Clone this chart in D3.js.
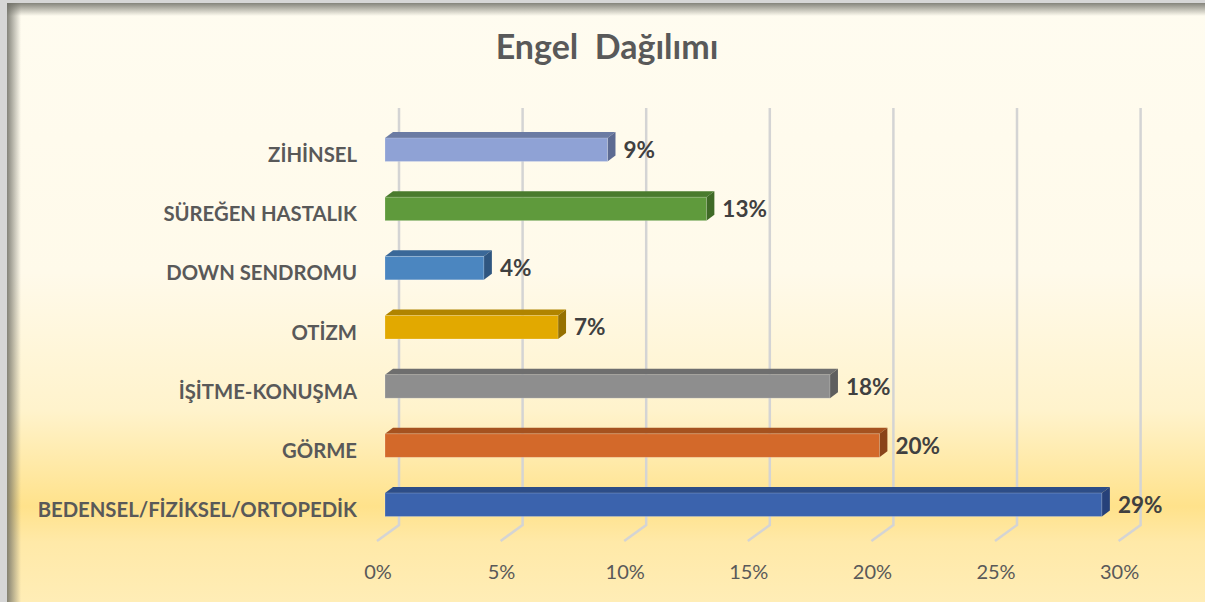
<!DOCTYPE html>
<html>
<head>
<meta charset="utf-8">
<script src="https://cdn.jsdelivr.net/npm/d3@7"></script>
<style>
  body { margin: 0; padding: 0; background: #fff; }
  svg { display: block; }
</style>
</head>
<body>
<div id="chart"></div>
<script>
// data, top row first
const categories = ["ZİHİNSEL", "SÜREĞEN HASTALIK", "DOWN SENDROMU", "OTİZM",
                    "İŞİTME-KONUŞMA", "GÖRME", "BEDENSEL/FİZİKSEL/ORTOPEDİK"];
const values = [9, 13, 4, 7, 18, 20, 29];
const tickValues = [0, 5, 10, 15, 20, 25, 30];
const title = "Engel  Dağılımı";

// bar colours: front, top, side
const fronts = ["#8fa2d5", "#5f9a3c", "#4b86c0", "#e2a900", "#8e8e8e", "#d3692a", "#3b63ad"];
const tops   = ["#6b7ba3", "#4a7b2d", "#3a6898", "#b08400", "#6e6e6e", "#a5521f", "#2d4d87"];
const sides  = ["#5d6b92", "#3f6a26", "#2f5680", "#957000", "#5e5e5e", "#8a4419", "#26417a"];

const width = 1205;
const height = 602;
const font = "Lato, 'Open Sans', sans-serif";

// depth offsets of the fake 3d
const depth = {dx: 8, dy: 6};
const wall = {dx: 14, dy: 10};

const svg = d3.select("#chart").append("svg")
    .attr("width", width)
    .attr("height", height);

const defs = svg.append("defs");

const bg = defs.append("linearGradient")
    .attr("id", "bg").attr("x1", 0).attr("y1", 0).attr("x2", 0).attr("y2", 1);
[[0, "#fffcf0"], [0.45, "#fffaea"], [0.68, "#fff3cc"], [0.84, "#ffe28b"],
 [0.9, "#ffe9a8"], [1, "#ffedb6"]].forEach(s =>
    bg.append("stop").attr("offset", s[0]).attr("stop-color", s[1]));

const shadeL = defs.append("linearGradient").attr("id", "shadeL");
shadeL.append("stop").attr("offset", 0).attr("stop-color", "#6e6e66").attr("stop-opacity", 0.85);
shadeL.append("stop").attr("offset", 1).attr("stop-color", "#6e6e66").attr("stop-opacity", 0);

const shadeT = defs.append("linearGradient").attr("id", "shadeT")
    .attr("x1", 0).attr("y1", 0).attr("x2", 0).attr("y2", 1);
shadeT.append("stop").attr("offset", 0).attr("stop-color", "#6e6e66").attr("stop-opacity", 0.85);
shadeT.append("stop").attr("offset", 1).attr("stop-color", "#6e6e66").attr("stop-opacity", 0);

// frame + background
svg.append("rect").attr("width", width).attr("height", height).attr("fill", "#d6d6d6");
svg.append("rect").attr("x", 7).attr("y", 3).attr("width", width - 7).attr("height", height - 3)
    .attr("fill", "url(#bg)");
svg.append("rect").attr("x", 7).attr("y", 3).attr("width", 14).attr("height", height - 3)
    .attr("fill", "url(#shadeL)");
svg.append("rect").attr("x", 7).attr("y", 3).attr("width", width - 7).attr("height", 13)
    .attr("fill", "url(#shadeT)");

// scales
const x = d3.scaleLinear()
    .domain([0, 30])
    .range([385, 385 + 30 * 24.72]);

const y = d3.scaleBand()
    .domain(categories)
    .range([138, 516.5])
    .paddingInner(0.603)
    .paddingOuter(0);

const wallTop = 108;
const wallBottom = 525;

// gridlines on the back wall and floor
const grid = svg.append("g")
    .attr("fill", "none")
    .attr("stroke", "#d4d4d4")
    .attr("stroke-width", 2.5);

grid.selectAll("path")
    .data(tickValues)
    .join("path")
    .attr("d", d => `M${x(d) + wall.dx},${wallTop}V${wallBottom}` +
        `L${x(d) - 8},${wallBottom + 16}`);

// tick labels
svg.append("g")
    .selectAll("text")
    .data(tickValues)
    .join("text")
    .attr("x", d => x(d) - 7)
    .attr("y", 579)
    .attr("text-anchor", "middle")
    .attr("font-family", font)
    .attr("font-size", 20)
    .attr("fill", "#595959")
    .text(d => d + "%");

// bars
const bars = svg.append("g")
    .selectAll("g")
    .data(categories)
    .join("g");

const h = y.bandwidth();

bars.append("path")
    .attr("fill", (d, i) => tops[i])
    .attr("d", (d, i) => {
        const x0 = x(0), x1 = x(values[i]), t = y(d);
        return `M${x0},${t}L${x0 + depth.dx},${t - depth.dy}L${x1 + depth.dx},${t - depth.dy}L${x1},${t}Z`;
    });

bars.append("path")
    .attr("fill", (d, i) => sides[i])
    .attr("d", (d, i) => {
        const x1 = x(values[i]), t = y(d);
        return `M${x1},${t}L${x1 + depth.dx},${t - depth.dy}L${x1 + depth.dx},${t + h - depth.dy}L${x1},${t + h}Z`;
    });

bars.append("rect")
    .attr("x", x(0))
    .attr("y", d => y(d))
    .attr("width", (d, i) => x(values[i]) - x(0))
    .attr("height", h)
    .attr("fill", (d, i) => fronts[i])
    .attr("stroke", "rgba(255,255,255,0.25)")
    .attr("stroke-width", 0.8);

// value labels
bars.append("text")
    .attr("x", (d, i) => x(values[i]) + 16)
    .attr("y", d => y(d) + h / 2)
    .attr("dy", "0.36em")
    .attr("font-family", font)
    .attr("font-weight", "bold")
    .attr("font-size", 22.5)
    .attr("fill", "#404040")
    .text((d, i) => values[i] + "%");

// category labels
svg.append("g")
    .selectAll("text")
    .data(categories)
    .join("text")
    .attr("x", 357)
    .attr("y", d => y(d) + h / 2 + 5)
    .attr("dy", "0.36em")
    .attr("text-anchor", "end")
    .attr("font-family", font)
    .attr("font-weight", "bold")
    .attr("font-size", 20.3)
    .attr("fill", "#595959")
    .text(d => d);

// title
svg.append("text")
    .attr("x", 607)
    .attr("y", 59)
    .attr("text-anchor", "middle")
    .attr("font-family", font)
    .attr("font-weight", "bold")
    .attr("font-size", 34)
    .attr("fill", "#595959")
    .style("white-space", "pre")
    .text(title);
</script>
</body>
</html>
